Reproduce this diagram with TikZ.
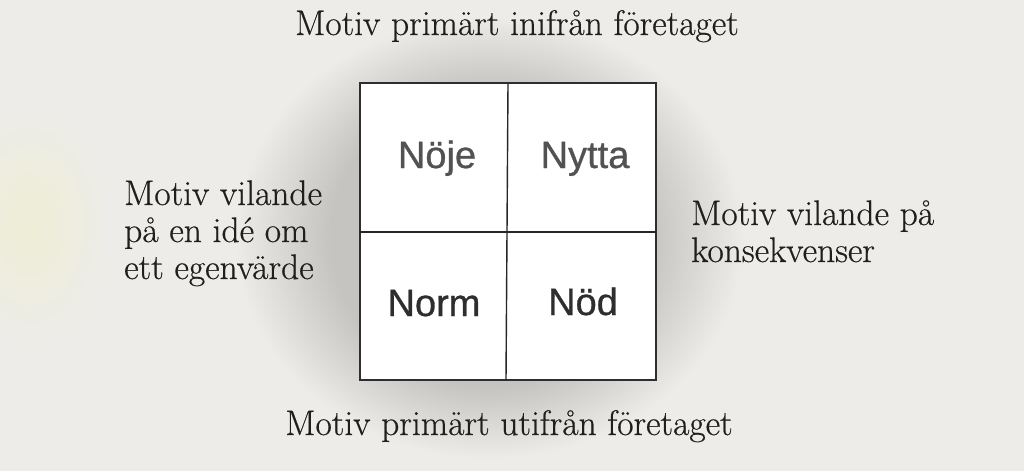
\documentclass[tikz,border=0pt]{standalone}
\usepackage{fontspec}
\newfontfamily\cellfont{Liberation Sans}[FakeBold=0.8]
\newfontfamily\textserif{Latin Modern Roman}[FakeBold=0.5]
\begin{document}
\begin{tikzpicture}[x=1pt,y=-1pt,
  serif/.style={inner sep=0pt,text=black!88,font=\textserif\fontsize{35.5}{40}\selectfont},
  celllabel/.style={inner sep=0pt,anchor=base,text=black!75,font=\cellfont\fontsize{38}{42}\selectfont},
  outerbox/.style={draw=black!82,line width=2.6pt,fill=white},
  divider/.style={draw=black!85,line width=1.4pt}]
\definecolor{paper}{RGB}{237,236,232}
\useasboundingbox (0,0) rectangle (1024,471);
\fill[paper] (0,0) rectangle (1024,471);
% faint tint at left edge
\shade[inner color=yellow!8!paper,outer color=paper] (30,225) ellipse [x radius=80,y radius=120];
% soft halo around the box
\foreach \k in {0,...,39}{
  \fill[black,opacity=0.0045] (490,238) ellipse [x radius={160+2.4*\k},y radius={150+1.8*\k}];
}
\coordinate (tl) at (360,83);
\coordinate (br) at (656,380);
\coordinate (tm) at (508,83);
\coordinate (bm) at (506,380);
\coordinate (lm) at (360,232);
\coordinate (rm) at (656,232);
\draw[outerbox] (tl) rectangle (br);
\draw[divider] (tm) -- (bm);
\draw[divider] (lm) -- (rm);
\node[celllabel,text=black!68] (noje) at (437,168) {Nöje};
\node[celllabel,text=black!68] (nytta) at (585,168) {Nytta};
\node[celllabel,text=black!82] (norm) at (434,316) {Norm};
\node[celllabel,text=black!82] (nod) at (583,315) {Nöd};
\node[serif,anchor=base] (top) at (517,35) {Motiv primärt inifrån företaget};
\node[serif,anchor=base] (bottom) at (509,435) {Motiv primärt utifrån företaget};
\node[serif,anchor=base west] (l1) at (124,205) {Motiv vilande};
\node[serif,anchor=base west] (l2) at (124,242) {på en idé om};
\node[serif,anchor=base west] (l3) at (124,279) {ett egenvärde};
\node[serif,anchor=base west] (r1) at (691,225) {Motiv vilande på};
\node[serif,anchor=base west] (r2) at (691,262) {konsekvenser};
\end{tikzpicture}
\end{document}
